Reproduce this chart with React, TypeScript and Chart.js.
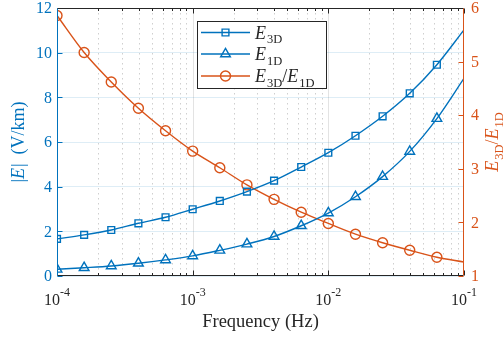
import { useEffect, useRef } from 'react';
import { Chart, registerables } from 'chart.js';

Chart.register(...registerables);

// ---- data ----
const frequencies = [1e-4, 1.585e-4, 2.512e-4, 3.981e-4, 6.31e-4, 1e-3, 1.585e-3, 2.512e-3, 3.981e-3, 6.31e-3, 1e-2, 1.585e-2, 2.512e-2, 3.981e-2, 6.31e-2, 1e-1];
const e3d = [1.66, 1.84, 2.06, 2.36, 2.63, 2.99, 3.36, 3.78, 4.27, 4.88, 5.52, 6.28, 7.15, 8.18, 9.46, 11.02];
const e1d = [0.3, 0.37, 0.45, 0.57, 0.72, 0.9, 1.15, 1.43, 1.77, 2.25, 2.82, 3.55, 4.45, 5.58, 7.05, 8.85];
const ratio = [5.86, 5.17, 4.62, 4.13, 3.71, 3.33, 3.02, 2.7, 2.43, 2.19, 1.98, 1.78, 1.62, 1.48, 1.35, 1.26];
const markerShown = [1, 1, 1, 1, 1, 1, 1, 1, 1, 1, 1, 1, 1, 1, 1, 0];

const xTickExponents = [-4, -3, -2, -1];
const xMinorMultipliers = [2, 3, 4, 5, 6, 7, 8, 9];
const leftTicks = [0, 2, 4, 6, 8, 10, 12];
const rightTicks = [1, 2, 3, 4, 5, 6];

const BLUE = '#0072BD';
const ORANGE = '#D95319';
const DARK = '#262626';
const FONT = '"Liberation Serif", "DejaVu Serif", serif';

const pts = (ys: number[]) => frequencies.map((x, i) => ({ x, y: ys[i] }));

type Part = { t: string; it?: boolean; sub?: boolean };

function drawRich(ctx: CanvasRenderingContext2D, parts: Part[], cx: number, cy: number, size: number, subSize: number) {
  const fontOf = (p: Part) => `${p.it ? 'italic ' : ''}${p.sub ? subSize : size}px ${FONT}`;
  let total = 0;
  const widths = parts.map((p) => {
    ctx.font = fontOf(p);
    const w = ctx.measureText(p.t).width + (p.it ? 1 : 0);
    total += w;
    return w;
  });
  let x = cx - total / 2;
  ctx.textBaseline = 'alphabetic';
  ctx.textAlign = 'left';
  parts.forEach((p, i) => {
    ctx.font = fontOf(p);
    ctx.fillText(p.t, x, cy + (p.sub ? size * 0.25 : 0));
    x += widths[i];
  });
}

function drawRichLeft(ctx: CanvasRenderingContext2D, parts: Part[], x0: number, y: number, size: number, subSize: number) {
  let x = x0;
  ctx.textAlign = 'left';
  ctx.textBaseline = 'alphabetic';
  parts.forEach((p) => {
    ctx.font = `${p.it ? 'italic ' : ''}${p.sub ? subSize : size}px ${FONT}`;
    ctx.fillText(p.t, x, y + (p.sub ? size * 0.25 : 0));
    x += ctx.measureText(p.t).width + (p.it ? 1 : 0);
  });
}

function marker(ctx: CanvasRenderingContext2D, kind: string, x: number, y: number, color: string) {
  ctx.save();
  ctx.strokeStyle = color;
  ctx.lineWidth = 1.4;
  ctx.beginPath();
  if (kind === 'rect') {
    ctx.rect(x - 3.4, y - 3.4, 6.8, 6.8);
  } else if (kind === 'triangle') {
    const r = 5.6;
    ctx.moveTo(x, y - r);
    ctx.lineTo(x + r * 0.866, y + r * 0.5);
    ctx.lineTo(x - r * 0.866, y + r * 0.5);
    ctx.closePath();
  } else {
    ctx.arc(x, y, 5, 0, Math.PI * 2);
  }
  ctx.stroke();
  ctx.restore();
}

const decorPlugin = {
  id: 'decor',
  beforeDatasetsDraw(chart: any) {
    const { ctx, chartArea: a, scales } = chart;
    const xs = scales.x;
    ctx.save();
    xTickExponents.slice(0, 3).forEach((e) => {
      const base = Math.pow(10, e);
      const px0 = Math.round(xs.getPixelForValue(base)) + 0.5;
      if (e !== -4) {
        ctx.strokeStyle = 'rgba(38,38,38,0.13)';
        ctx.setLineDash([]);
        ctx.lineWidth = 1;
        ctx.beginPath();
        ctx.moveTo(px0, a.top);
        ctx.lineTo(px0, a.bottom);
        ctx.stroke();
      }
      xMinorMultipliers.forEach((m) => {
        const px = Math.round(xs.getPixelForValue(m * base)) + 0.5;
        ctx.strokeStyle = 'rgba(38,38,38,0.22)';
        ctx.setLineDash([1.5, 3.5]);
        ctx.lineWidth = 1;
        ctx.beginPath();
        ctx.moveTo(px, a.top);
        ctx.lineTo(px, a.bottom);
        ctx.stroke();
      });
    });
    ctx.restore();
  },
  afterDraw(chart: any) {
    const { ctx, chartArea: a, scales } = chart;
    const xs = scales.x;
    const yl = scales.y;
    const yr = scales.y1;
    ctx.save();
    ctx.setLineDash([]);
    ctx.lineWidth = 1;
    const L = Math.round(a.left) + 0.5;
    const R = Math.round(a.right) - 0.5;
    const T = Math.round(a.top) + 0.5;
    const B = Math.round(a.bottom) - 0.5;

    // x ticks (bottom and top)
    ctx.strokeStyle = DARK;
    xTickExponents.forEach((e, idx) => {
      const base = Math.pow(10, e);
      const px = Math.round(xs.getPixelForValue(base)) + 0.5;
      ctx.beginPath();
      ctx.moveTo(px, B); ctx.lineTo(px, B - 5);
      ctx.moveTo(px, T); ctx.lineTo(px, T + 5);
      ctx.stroke();
      if (idx < 3) {
        xMinorMultipliers.forEach((m) => {
          const pm = Math.round(xs.getPixelForValue(m * base)) + 0.5;
          ctx.beginPath();
          ctx.moveTo(pm, B); ctx.lineTo(pm, B - 2.5);
          ctx.moveTo(pm, T); ctx.lineTo(pm, T + 2.5);
          ctx.stroke();
        });
      }
    });

    // left ticks
    ctx.strokeStyle = BLUE;
    leftTicks.forEach((v) => {
      const py = Math.round(yl.getPixelForValue(v)) + 0.5;
      ctx.beginPath(); ctx.moveTo(L, py); ctx.lineTo(L + 5, py); ctx.stroke();
    });
    // right ticks
    ctx.strokeStyle = ORANGE;
    rightTicks.forEach((v) => {
      const py = Math.round(yr.getPixelForValue(v)) + 0.5;
      ctx.beginPath(); ctx.moveTo(R, py); ctx.lineTo(R - 5, py); ctx.stroke();
    });

    // axes lines
    ctx.strokeStyle = DARK;
    ctx.beginPath(); ctx.moveTo(L, T); ctx.lineTo(R, T); ctx.stroke();
    ctx.beginPath(); ctx.moveTo(L, B); ctx.lineTo(R, B); ctx.stroke();
    ctx.strokeStyle = BLUE;
    ctx.beginPath(); ctx.moveTo(L, T); ctx.lineTo(L, B); ctx.stroke();
    ctx.strokeStyle = ORANGE;
    ctx.beginPath(); ctx.moveTo(R, T); ctx.lineTo(R, B); ctx.stroke();

    // tick labels left
    ctx.font = `16px ${FONT}`;
    ctx.fillStyle = BLUE;
    ctx.textAlign = 'right';
    ctx.textBaseline = 'middle';
    leftTicks.forEach((v) => ctx.fillText(String(v), a.left - 5, yl.getPixelForValue(v) + 1));
    // tick labels right
    ctx.fillStyle = ORANGE;
    ctx.textAlign = 'left';
    rightTicks.forEach((v) => ctx.fillText(String(v), a.right + 7, yr.getPixelForValue(v) + 1));

    // x tick labels
    ctx.fillStyle = DARK;
    xTickExponents.forEach((e) => {
      const px = xs.getPixelForValue(Math.pow(10, e));
      ctx.font = `16px ${FONT}`;
      const w1 = ctx.measureText('10').width;
      ctx.font = `12px ${FONT}`;
      const w2 = ctx.measureText(String(e)).width;
      const x0 = px - (w1 + w2) / 2;
      ctx.textAlign = 'left';
      ctx.textBaseline = 'alphabetic';
      ctx.font = `16px ${FONT}`;
      ctx.fillText('10', x0, a.bottom + 29);
      ctx.font = `12px ${FONT}`;
      ctx.fillText(String(e), x0 + w1, a.bottom + 20);
    });

    // x title
    ctx.fillStyle = DARK;
    ctx.font = `18.5px ${FONT}`;
    ctx.textAlign = 'center';
    ctx.textBaseline = 'alphabetic';
    ctx.fillText('Frequency (Hz)', (a.left + a.right) / 2, a.bottom + 51);

    // left y title
    ctx.save();
    ctx.translate(24, (a.top + a.bottom) / 2);
    ctx.rotate(-Math.PI / 2);
    ctx.fillStyle = BLUE;
    drawRich(ctx, [{ t: '|' }, { t: 'E', it: true }, { t: '|  (V/km)' }], 0, 0, 18, 13);
    ctx.restore();

    // right y title
    ctx.save();
    ctx.translate(498, (a.top + a.bottom) / 2);
    ctx.rotate(-Math.PI / 2);
    ctx.fillStyle = ORANGE;
    drawRich(ctx, [{ t: 'E', it: true }, { t: '3D', sub: true }, { t: '/' }, { t: 'E', it: true }, { t: '1D', sub: true }], 0, 0, 18, 12.5);
    ctx.restore();

    // legend
    const lx = 197, ly = 21, lw = 129, lh = 67;
    ctx.fillStyle = '#ffffff';
    ctx.fillRect(lx, ly, lw, lh);
    ctx.strokeStyle = DARK;
    ctx.lineWidth = 1;
    ctx.strokeRect(lx + 0.5, ly + 0.5, lw, lh);
    const rows: { y: number; color: string; kind: string; parts: Part[] }[] = [
      { y: 32.5, color: BLUE, kind: 'rect', parts: [{ t: 'E', it: true }, { t: '3D', sub: true }] },
      { y: 54, color: BLUE, kind: 'triangle', parts: [{ t: 'E', it: true }, { t: '1D', sub: true }] },
      { y: 76, color: ORANGE, kind: 'circle', parts: [{ t: 'E', it: true }, { t: '3D', sub: true }, { t: '/' }, { t: 'E', it: true }, { t: '1D', sub: true }] },
    ];
    rows.forEach((r) => {
      ctx.strokeStyle = r.color;
      ctx.lineWidth = 1.4;
      ctx.beginPath();
      ctx.moveTo(201, r.y); ctx.lineTo(250, r.y);
      ctx.stroke();
      marker(ctx, r.kind, 225.5, r.y, r.color);
      ctx.fillStyle = DARK;
      drawRichLeft(ctx, r.parts, 255, r.y + 6, 18, 12.5);
    });

    ctx.restore();
  },
};

export default function App() {
  const ref = useRef<HTMLCanvasElement | null>(null);
  useEffect(() => {
    document.body.style.margin = '0';
    const canvas = ref.current;
    if (!canvas) return;
    const mk = (ys: number[], color: string, style: string, r: number) => ({
      data: pts(ys),
      borderColor: color,
      backgroundColor: color,
      borderWidth: 1.4,
      pointStyle: style,
      pointRadius: markerShown.map((s) => s * r),
      pointHoverRadius: 0,
      pointBorderWidth: 1.4,
      pointBorderColor: color,
      pointBackgroundColor: 'rgba(0,0,0,0)',
      cubicInterpolationMode: 'monotone' as const,
      fill: false,
    });
    const chart = new Chart(canvas, {
      type: 'line',
      data: {
        datasets: [
          { ...mk(e3d, BLUE, 'rect', 4.8), label: 'E3D', yAxisID: 'y' },
          { ...mk(e1d, BLUE, 'triangle', 5.6), label: 'E1D', yAxisID: 'y' },
          { ...mk(ratio, ORANGE, 'circle', 5), label: 'E3D/E1D', yAxisID: 'y1' },
        ],
      },
      options: {
        responsive: false,
        animation: false,
        events: [],
        layout: { padding: { left: 57, right: 40, top: 8, bottom: 63 } },
        plugins: { legend: { display: false }, tooltip: { enabled: false } },
        scales: {
          x: {
            type: 'logarithmic',
            min: 1e-4,
            max: 1e-1,
            ticks: { display: false },
            grid: { display: false, drawTicks: false },
            border: { display: false },
          },
          y: {
            type: 'linear',
            position: 'left',
            min: 0,
            max: 12,
            ticks: { display: false, stepSize: 2 },
            grid: { color: 'rgba(0,114,189,0.13)', drawTicks: false },
            border: { display: false },
          },
          y1: {
            type: 'linear',
            position: 'right',
            min: 1,
            max: 6,
            ticks: { display: false, stepSize: 1 },
            grid: { display: false, drawTicks: false },
            border: { display: false },
          },
        },
      },
      plugins: [decorPlugin],
    });
    return () => chart.destroy();
  }, []);
  return <canvas ref={ref} width={504} height={339} style={{ display: 'block' }} />;
}
